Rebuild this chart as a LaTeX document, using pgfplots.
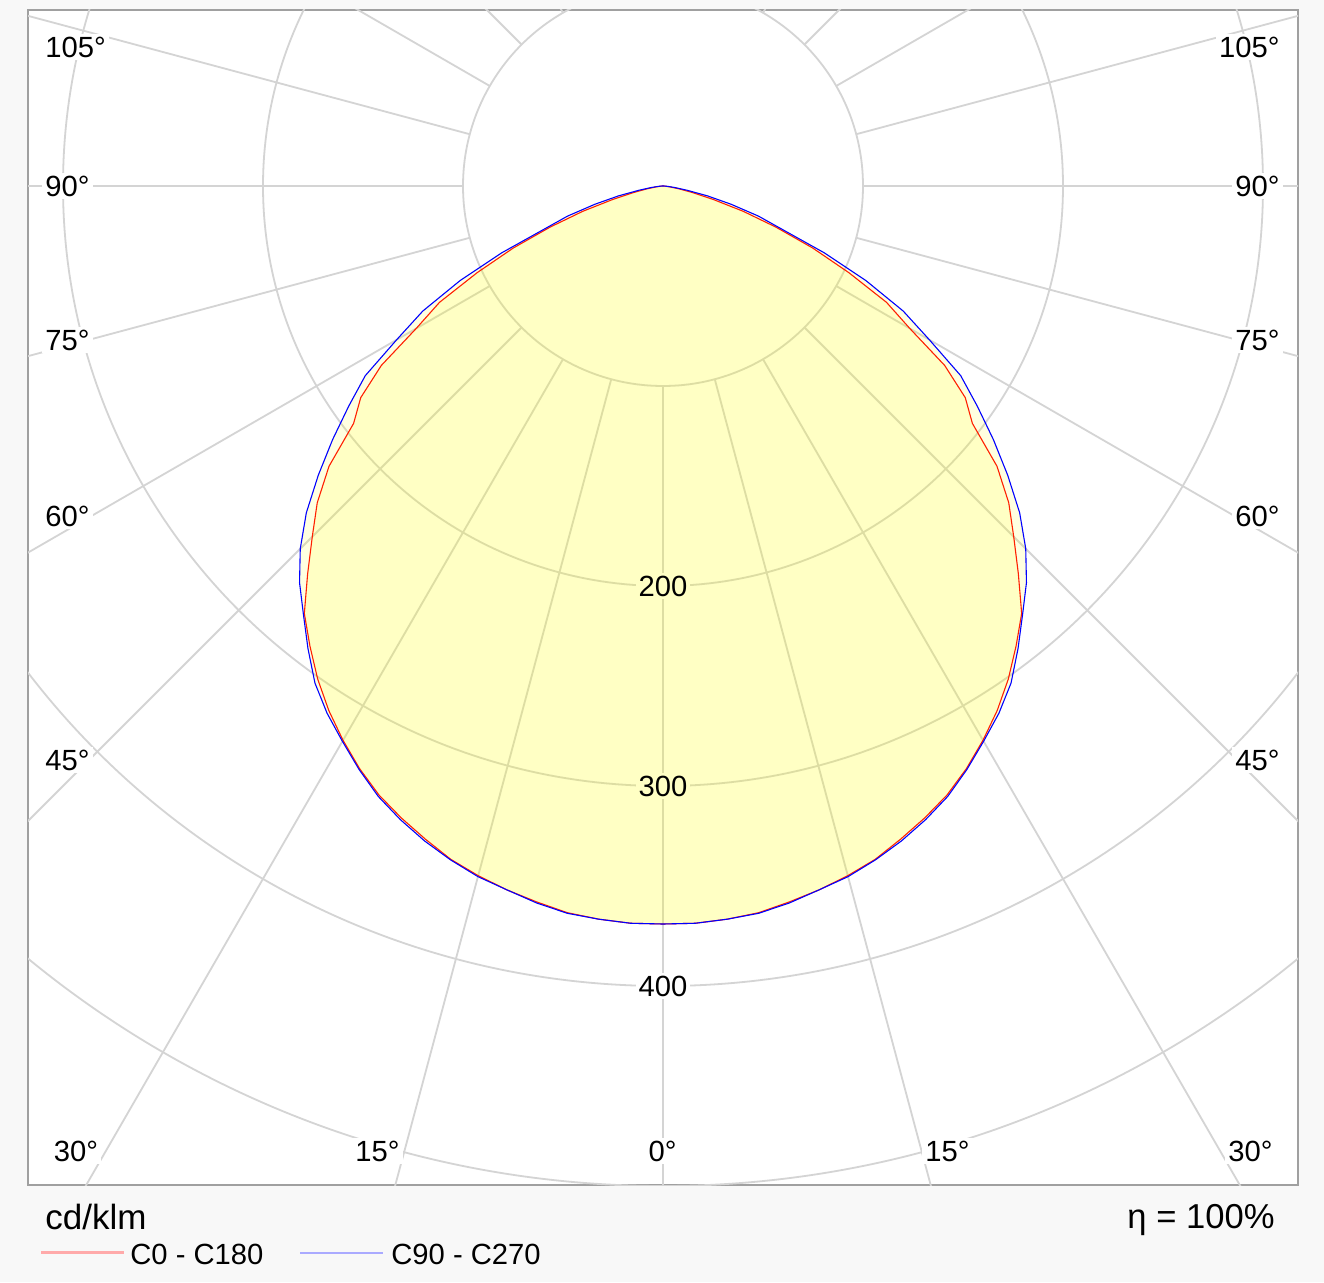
\documentclass[border=0pt]{standalone}
\usepackage{pgfplots}
\pgfplotsset{compat=1.18}
\usepackage{pgfplotstable}
\usepackage{fontspec}
\setmainfont{Liberation Sans}
\usetikzlibrary{backgrounds}

\definecolor{bgc}{RGB}{248,248,248}
\definecolor{gridc}{RGB}{212,212,212}
\definecolor{framec}{RGB}{160,160,160}
\definecolor{fillc}{RGB}{255,255,0}
\definecolor{redc}{RGB}{255,0,0}
\definecolor{bluec}{RGB}{0,0,255}
\definecolor{legred}{RGB}{255,170,170}
\definecolor{legblue}{RGB}{170,170,255}

% C0 - C180 : t = gamma angle (negative = left half), r = cd/klm
\pgfplotstableread{
t r
-90 0
-87.5 0.4
-85 1.2
-82.5 3.5
-80 8
-77.5 15
-75 26
-72.5 42
-70 60
-67.5 81
-65 102.5
-62.5 126
-60 142.5
-57.5 167
-55 184.5
-52.5 195
-50 218
-47.5 234.5
-45 248
-42.5 263
-40 279
-37.5 290
-35 301
-32.5 311
-30 320
-27.5 328.5
-25 336
-22.5 342
-20 347.5
-17.5 353
-15 357
-12.5 360.5
-10 363.5
-7.5 366.5
-5 368
-2.5 369
0 369
2.5 369
5 368
7.5 366.5
10 363.5
12.5 360.5
15 357
17.5 353
20 347.5
22.5 342
25 336
27.5 328.5
30 320
32.5 311
35 301
37.5 290
40 279
42.5 263
45 248
47.5 234.5
50 218
52.5 195
55 184.5
57.5 167
60 142.5
62.5 126
65 102.5
67.5 81
70 60
72.5 42
75 26
77.5 15
80 8
82.5 3.5
85 1.2
87.5 0.4
90 0
}\redtab

% C90 - C270
\pgfplotstableread{
t r
-90 0
-87.5 0.8
-85 2.5
-82.5 6
-80 12.1
-77.5 22.7
-75 35.2
-72.5 50
-70 63.5
-67.5 87.2
-65 112
-62.5 135.4
-60 153.8
-57.5 176.5
-55 191.8
-52.5 208.2
-50 225
-47.5 241.9
-45 256.5
-42.5 269
-40 279.7
-37.5 291.6
-35 303.4
-32.5 312.6
-30 320.6
-27.5 329
-25 336.8
-22.5 343
-20 348.5
-17.5 353.3
-15 357.5
-12.5 360.5
-10 364
-7.5 366.8
-5 368
-2.5 369
0 369
2.5 369
5 368
7.5 366.8
10 364
12.5 360.5
15 357.5
17.5 353.3
20 348.5
22.5 343
25 336.8
27.5 329
30 320.6
32.5 312.6
35 303.4
37.5 291.6
40 279.7
42.5 269
45 256.5
47.5 241.9
50 225
52.5 208.2
55 191.8
57.5 176.5
60 153.8
62.5 135.4
65 112
67.5 87.2
70 63.5
72.5 50
75 35.2
77.5 22.7
80 12.1
82.5 6
85 2.5
87.5 0.8
90 0
}\bluetab

\begin{document}
\begin{tikzpicture}[
  lbl/.style={fill=white, inner sep=1.5pt, text=black, font=\fontsize{14.6}{17}\selectfont},
  txt/.style={inner sep=1.5pt, text=black, font=\fontsize{14.6}{17}\selectfont},
  gl/.style={draw=gridc, line width=0.9pt}
]
\begin{axis}[
  name=ax,
  scale only axis,
  width=635pt, height=587.5pt,
  xmin=-317.5, xmax=317.5, ymin=-499.5, ymax=88,
  ticks=none,
  axis line style={draw=framec, line width=1pt},
  axis background/.style={fill=white},
]
\pgfplotsinvokeforeach{100,200,300,400,500}{
  \draw[gl] (axis cs:0,0) circle[radius=#1];
}
\pgfplotsinvokeforeach{0,15,...,345}{
  \draw[gl] (axis cs:{100*cos(#1)},{100*sin(#1)}) -- (axis cs:{700*cos(#1)},{700*sin(#1)});
}
% angle labels
\node[lbl, anchor=west] at (axis cs:-310.5,69.5) {105°};
\node[lbl, anchor=west] at (axis cs:-310.5,0) {90°};
\node[lbl, anchor=west] at (axis cs:-310.5,-77) {75°};
\node[lbl, anchor=west] at (axis cs:-310.5,-165) {60°};
\node[lbl, anchor=west] at (axis cs:-310.5,-287) {45°};
\node[lbl, anchor=east] at (axis cs:310,69.5) {105°};
\node[lbl, anchor=east] at (axis cs:310,0) {90°};
\node[lbl, anchor=east] at (axis cs:310,-77) {75°};
\node[lbl, anchor=east] at (axis cs:310,-165) {60°};
\node[lbl, anchor=east] at (axis cs:310,-287) {45°};
\node[lbl] at (axis cs:-293.5,-482.5) {30°};
\node[lbl] at (axis cs:-142.75,-482.5) {15°};
\node[lbl] at (axis cs:-0.25,-482.5) {0°};
\node[lbl] at (axis cs:142.25,-482.5) {15°};
\node[lbl] at (axis cs:293.75,-482.5) {30°};
% white boxes behind radius labels (under the fill)
\node[lbl] at (axis cs:0,-200) {\phantom{200}};
\node[lbl] at (axis cs:0,-300) {\phantom{300}};
\node[lbl] at (axis cs:0,-400) {\phantom{400}};
% curves
\addplot[draw=redc, line width=0.55pt, fill=fillc, fill opacity=0.12, data cs=polar]
  table[x expr=\thisrow{t}+270, y=r] {\redtab};
\addplot[draw=bluec, line width=0.55pt, fill=fillc, fill opacity=0.12, data cs=polar]
  table[x expr=\thisrow{t}+270, y=r] {\bluetab};
% radius labels on top
\node[txt] at (axis cs:0,-200) {200};
\node[txt] at (axis cs:0,-300) {300};
\node[txt] at (axis cs:0,-400) {400};
\end{axis}
\begin{scope}[shift={(ax.south west)}]
  \node[anchor=base west, inner sep=0pt, font=\fontsize{17.5}{20}\selectfont] at (8.5pt,-22.15pt) {cd/klm};
  \draw[legred, line width=1.2pt] (6.5pt,-33.65pt) -- (48pt,-33.65pt);
  \node[anchor=base west, inner sep=0pt, font=\fontsize{14.6}{17}\selectfont] at (51pt,-39.5pt) {C0 - C180};
  \draw[legblue, line width=1.2pt] (136pt,-34pt) -- (177.5pt,-34pt);
  \node[anchor=base west, inner sep=0pt, font=\fontsize{14.6}{17}\selectfont] at (181.5pt,-39.5pt) {C90 - C270};
  \node[anchor=base east, inner sep=0pt, font=\fontsize{17.3}{20}\selectfont] at (623.5pt,-21.65pt) {η = 100\%};
\end{scope}
\begin{scope}[on background layer, shift={(ax.south west)}]
  \fill[bgc] (-14pt,-48.5pt) rectangle (648pt,592.5pt);
\end{scope}
\end{tikzpicture}
\end{document}
